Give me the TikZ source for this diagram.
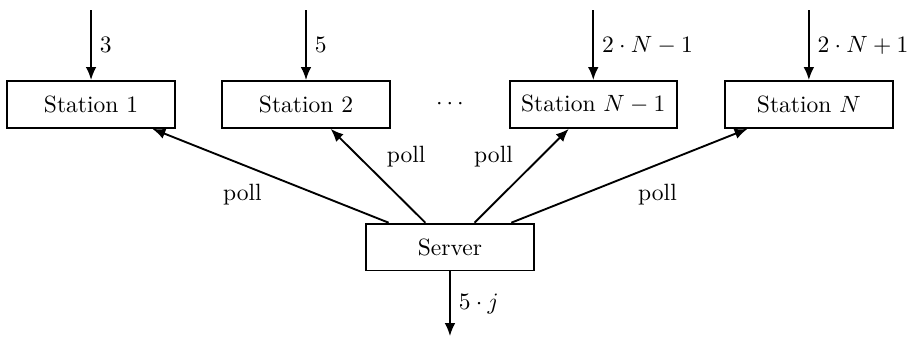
\documentclass[tikz,border=0pt]{standalone}
\usetikzlibrary{arrows.meta,positioning}
\tikzset{
  stationbox/.style={draw, thick, minimum width=2.5cm, minimum height=0.7cm},
  flow/.style={thick, -{Latex[length=5.5pt,width=4.5pt]}}
}
\begin{document}
\begin{tikzpicture}
  \useasboundingbox (-6.72,-1.33) rectangle (6.90,3.69);
  % Server
  \node[stationbox] (server) at (0,0) {Server};
  % Stations: arrivals from above, polls from the server
  \foreach \x/\nm/\txt/\inp/\anc in {-5.36/s1/Station 1/3/north east,
      -2.15/s2/Station 2/5/south west,
      2.14/snm/Station $N-1$/2\cdot N-1/south east,
      5.36/sn/Station $N$/2\cdot N+1/north west}{
    \node[stationbox] (\nm) at (\x,2.13) {\txt};
    \coordinate (\nm-in) at (\x,3.54);
    \draw[flow] (\nm-in) -- (\nm.north) node[midway, right] {$\inp$};
    \draw[flow] (server) -- (\nm) node[midway, anchor=\anc] {poll};
  }
  \node (dots) at (0,2.13) {$\cdots$};
  % Departures
  \coordinate (out) at (0,-1.33);
  \draw[flow] (server.south) -- (out) node[midway, right] {$5\cdot j$};
\end{tikzpicture}
\end{document}
